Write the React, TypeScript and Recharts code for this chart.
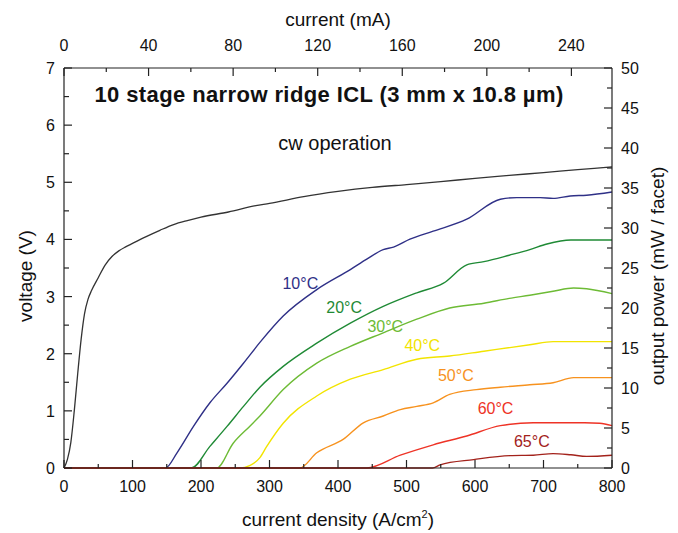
import { LineChart, Line, XAxis, YAxis, ReferenceDot } from "recharts";

const FONT = '"Liberation Sans", Arial, sans-serif';
const AXIS = "#222";

// voltage curve (V vs A/cm2)
const voltJ = [0, 5, 10, 15, 20, 25, 30, 35, 40, 50, 60, 70, 80, 90, 100, 120, 140, 160, 180, 200, 240, 280, 300, 350, 400, 450, 500, 550, 600, 650, 700, 750, 800];
const voltV = [0, 0.15, 0.45, 1.0, 1.65, 2.25, 2.7, 2.95, 3.1, 3.33, 3.55, 3.7, 3.8, 3.87, 3.93, 4.05, 4.16, 4.26, 4.33, 4.39, 4.48, 4.59, 4.63, 4.75, 4.84, 4.91, 4.96, 5.01, 5.07, 5.12, 5.17, 5.22, 5.27];

// output power curves (mW / facet)
const j10 = [0, 148, 165, 189, 213, 238, 262, 286, 320, 369, 418, 442, 466, 481, 505, 539, 588, 637, 661, 695, 714, 739, 763, 800];
const p10 = [0, 0, 1.9, 5.2, 8.15, 10.6, 13.1, 15.7, 19.0, 22.3, 24.8, 26.1, 27.3, 27.6, 28.6, 29.6, 31.1, 33.6, 33.8, 33.8, 33.7, 34.0, 34.1, 34.5];

const j20 = [0, 186, 213, 238, 262, 286, 320, 369, 418, 466, 515, 554, 588, 613, 650, 680, 705, 740, 800];
const p20 = [0, 0, 2.7, 5.2, 7.7, 10.1, 12.7, 15.6, 18.1, 20.2, 21.9, 23.1, 25.4, 25.8, 26.6, 27.3, 28.0, 28.5, 28.5];

const j30 = [0, 223, 247, 271, 286, 320, 369, 418, 466, 515, 563, 613, 650, 680, 714, 744, 763, 800];
const p30 = [0, 0, 3.1, 5.2, 6.5, 9.8, 13.1, 15.2, 16.9, 18.6, 20.0, 20.6, 21.2, 21.6, 22.1, 22.5, 22.4, 21.8];

const j40 = [0, 257, 271, 286, 296, 320, 369, 418, 466, 515, 563, 613, 680, 714, 800];
const p40 = [0, 0, 0.3, 1.3, 2.7, 5.6, 9.0, 11.1, 12.3, 13.6, 14.0, 14.6, 15.4, 15.8, 15.8];

const j50 = [0, 344, 369, 408, 437, 466, 491, 515, 539, 563, 602, 637, 680, 714, 744, 800];
const p50 = [0, 0, 1.9, 3.6, 5.65, 6.5, 7.3, 7.7, 8.15, 9.2, 9.8, 10.1, 10.4, 10.65, 11.3, 11.3];

const j60 = [0, 442, 491, 539, 588, 637, 685, 760, 782, 800];
const p60 = [0, 0, 1.6, 2.9, 4.0, 5.3, 5.65, 5.65, 5.6, 5.3];

const j65 = [0, 538, 549, 598, 651, 685, 714, 740, 763, 800];
const p65 = [0, 0, 0.4, 1.05, 1.55, 1.6, 1.8, 1.65, 1.45, 1.6];

const series = [
  { name: "10°C", js: j10, ps: p10, color: "#2f3087", lx: 345, ly: 23.1 },
  { name: "20°C", js: j20, ps: p20, color: "#1f8a35", lx: 409, ly: 20.1 },
  { name: "30°C", js: j30, ps: p30, color: "#6dbb35", lx: 469, ly: 17.7 },
  { name: "40°C", js: j40, ps: p40, color: "#f2e400", lx: 523, ly: 15.3 },
  { name: "50°C", js: j50, ps: p50, color: "#f7921e", lx: 572, ly: 11.6 },
  { name: "60°C", js: j60, ps: p60, color: "#ee3326", lx: 630, ly: 7.5 },
  { name: "65°C", js: j65, ps: p65, color: "#a3221b", lx: 683, ly: 3.35 },
];

const xTicks = [0, 50, 100, 150, 200, 250, 300, 350, 400, 450, 500, 550, 600, 650, 700, 750, 800];
const mATicks = [0, 20, 40, 60, 80, 100, 120, 140, 160, 180, 200, 220, 240];
const vTicks = [0, 0.5, 1, 1.5, 2, 2.5, 3, 3.5, 4, 4.5, 5, 5.5, 6, 6.5, 7];
const pTicks = [0, 2.5, 5, 7.5, 10, 12.5, 15, 17.5, 20, 22.5, 25, 27.5, 30, 32.5, 35, 37.5, 40, 42.5, 45, 47.5, 50];

// 3 mm x 10.8 um ridge: mA per A/cm2
const MA_PER_J = 0.324;
const MA_MAX = 800 * MA_PER_J;

const voltData = voltJ.map((j, i) => ({ j, v: voltV[i] }));
// invisible helper so the top (mA) axis gets its range
const mAData = [
  { mA: 0, p: 0 },
  { mA: MA_MAX, p: 0 },
];

const BottomTick = ({ x, y, payload }: any) => {
  const major = payload.value % 100 === 0;
  return (
    <g>
      <line x1={x} x2={x} y1={y} y2={y - (major ? 8 : 4)} stroke={AXIS} strokeWidth={1.2} />
      {major && (
        <text x={x} y={y + 24} textAnchor="middle" fontSize={16} fontFamily={FONT} fill="#111">
          {payload.value}
        </text>
      )}
    </g>
  );
};

const TopTick = ({ x, y, payload }: any) => {
  const major = payload.value % 40 === 0;
  return (
    <g>
      <line x1={x} x2={x} y1={y} y2={y + (major ? 8 : 4)} stroke={AXIS} strokeWidth={1.2} />
      {major && (
        <text x={x} y={y - 17} textAnchor="middle" fontSize={16} fontFamily={FONT} fill="#111">
          {payload.value}
        </text>
      )}
    </g>
  );
};

const LeftTick = ({ x, y, payload }: any) => {
  const major = Number.isInteger(payload.value);
  return (
    <g>
      <line x1={x} x2={x + (major ? 8 : 5)} y1={y} y2={y} stroke={AXIS} strokeWidth={1.2} />
      {major && (
        <text x={x - 9} y={y + 6} textAnchor="end" fontSize={16} fontFamily={FONT} fill="#111">
          {payload.value}
        </text>
      )}
    </g>
  );
};

const RightTick = ({ x, y, payload }: any) => {
  const major = payload.value % 5 === 0;
  return (
    <g>
      <line x1={x} x2={x - (major ? 8 : 5)} y1={y} y2={y} stroke={AXIS} strokeWidth={1.2} />
      {major && (
        <text x={x + 9} y={y + 6} textAnchor="start" fontSize={16} fontFamily={FONT} fill="#111">
          {payload.value}
        </text>
      )}
    </g>
  );
};

const textBase = {
  position: "absolute" as const,
  fontFamily: FONT,
  color: "#111",
  whiteSpace: "nowrap" as const,
  transform: "translate(-50%, -50%)",
  lineHeight: 1,
};

export default function App() {
  return (
    <div style={{ position: "absolute", left: 0, top: 0, width: 678, height: 533, background: "#fff" }}>
      <LineChart width={678} height={533} margin={{ top: 38, right: 26, bottom: 35, left: 24 }}>
        <XAxis
          dataKey="j"
          type="number"
          domain={[0, 800]}
          ticks={xTicks}
          interval={0}
          height={30}
          tickSize={0}
          tickMargin={0}
          tickLine={false}
          tick={<BottomTick />}
          stroke={AXIS}
          strokeWidth={1.2}
        />
        <XAxis
          xAxisId="mA"
          dataKey="mA"
          orientation="top"
          type="number"
          domain={[0, MA_MAX]}
          allowDataOverflow
          ticks={mATicks}
          interval={0}
          height={30}
          tickSize={0}
          tickMargin={0}
          tickLine={false}
          tick={<TopTick />}
          stroke={AXIS}
          strokeWidth={1.2}
        />
        <YAxis
          yAxisId="v"
          type="number"
          domain={[0, 7]}
          ticks={vTicks}
          interval={0}
          width={40}
          tickSize={0}
          tickMargin={0}
          tickLine={false}
          tick={<LeftTick />}
          stroke={AXIS}
          strokeWidth={1.2}
        />
        <YAxis
          yAxisId="p"
          orientation="right"
          type="number"
          domain={[0, 50]}
          ticks={pTicks}
          interval={0}
          width={40}
          tickSize={0}
          tickMargin={0}
          tickLine={false}
          tick={<RightTick />}
          stroke={AXIS}
          strokeWidth={1.2}
        />
        <Line
          xAxisId="mA"
          yAxisId="p"
          data={mAData}
          dataKey="p"
          stroke="none"
          dot={false}
          activeDot={false}
          isAnimationActive={false}
        />
        <Line
          yAxisId="v"
          data={voltData}
          dataKey="v"
          type="monotone"
          stroke="#333"
          strokeWidth={1.3}
          dot={false}
          isAnimationActive={false}
        />
        {series.map((s) => (
          <Line
            key={s.name}
            yAxisId="p"
            data={s.js.map((j, i) => ({ j, p: s.ps[i] }))}
            dataKey="p"
            type="monotone"
            stroke={s.color}
            strokeWidth={1.4}
            dot={false}
            isAnimationActive={false}
          />
        ))}
        {series.map((s) => (
          <ReferenceDot
            key={"l" + s.name}
            yAxisId="p"
            x={s.lx}
            y={s.ly}
            r={0}
            stroke="none"
            fill="none"
            label={{ value: s.name, fill: s.color, fontSize: 16, fontFamily: FONT, position: "center" }}
          />
        ))}
      </LineChart>
      <div style={{ ...textBase, left: 338, top: 19, fontSize: 19 }}>current (mA)</div>
      <div style={{ ...textBase, left: 338, top: 519, fontSize: 19 }}>
        current density (A/cm<sup style={{ fontSize: 11 }}>2</sup>)
      </div>
      <div style={{ ...textBase, left: 25, top: 276, fontSize: 19, transform: "translate(-50%, -50%) rotate(-90deg)" }}>
        voltage (V)
      </div>
      <div style={{ ...textBase, left: 657, top: 276, fontSize: 19, transform: "translate(-50%, -50%) rotate(-90deg)" }}>
        output power (mW / facet)
      </div>
      <div style={{ ...textBase, left: 329, top: 95, fontSize: 22, fontWeight: "bold", letterSpacing: 0.4 }}>
        10 stage narrow ridge ICL (3 mm x 10.8 µm)
      </div>
      <div style={{ ...textBase, left: 335, top: 143, fontSize: 20 }}>cw operation</div>
    </div>
  );
}
